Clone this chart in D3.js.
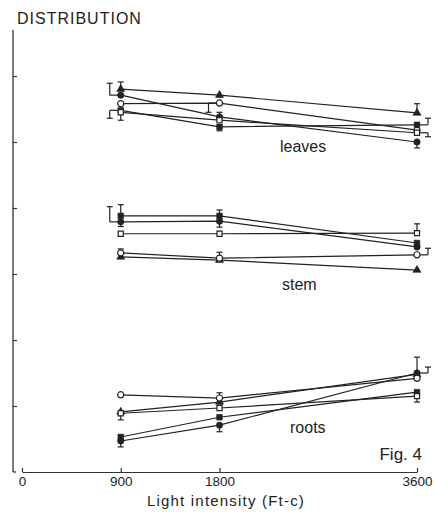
<!DOCTYPE html>
<html>
<head>
<meta charset="utf-8">
<script src="https://cdn.jsdelivr.net/npm/d3@7"></script>
<style>
  body { margin: 0; background: #fff; }
  svg { display: block; }
  text { font-family: "Liberation Sans", Arial, sans-serif; fill: #222; }
</style>
</head>
<body>
<svg></svg>
<script>
// размеры окна
const width = 435;
const height = 513;
let svg = d3.select("svg")
  .attr("width", width)
  .attr("height", height);

// данные: интенсивность света и три группы (листья, стебель, корни)
const lightLevels = [900, 1800, 3600];
const xTicks = [0, 900, 1800, 3600];
const yTicks = [10, 20, 30, 40, 50, 60];
const symbols = ["triangle", "dot", "ring", "square", "box"];

// порядок рядов совпадает с symbols
const leaves = [
  [58.0, 57.1, 54.4],
  [57.1, 53.8, 50.0],
  [55.8, 55.9, 51.8],
  [54.8, 52.3, 52.6],
  [54.5, 53.3, 51.4]
];
const stem = [
  [32.6, 32.1, 30.6],
  [37.9, 38.0, 34.1],
  [33.2, 32.4, 32.9],
  [38.8, 38.8, 34.7],
  [36.1, 36.1, 36.2]
];
const roots = [
  [9.1, 10.6, 14.8],
  [4.7, 7.1, 15.0],
  [11.7, 11.2, 14.2],
  [5.3, 8.3, 12.1],
  [8.9, 9.7, 11.5]
];
const groupNames = ["leaves", "stem", "roots"];

// планки ошибок: группа, ряд, точка, конец, сторона (-1 слева, 0 по центру, 1 справа)
const errorBars = [
  ["leaves", 0, 0, 59.1, 0],
  ["leaves", 1, 0, 58.9, -1],
  ["leaves", 4, 0, 53.3, 0],
  ["leaves", 3, 0, 53.6, -1],
  ["leaves", 2, 1, 54.5, -1],
  ["leaves", 1, 1, 54.5, 0],
  ["leaves", 3, 1, 51.7, 0],
  ["leaves", 0, 2, 55.8, 0],
  ["leaves", 3, 2, 53.6, 1],
  ["leaves", 4, 2, 50.8, 1],
  ["leaves", 1, 2, 49.1, 0],
  ["stem", 3, 0, 40.5, 0],
  ["stem", 1, 0, 37.2, 0],
  ["stem", 1, 0, 40.2, -1],
  ["stem", 2, 0, 33.8, 0],
  ["stem", 3, 1, 39.7, 0],
  ["stem", 1, 1, 37.1, 0],
  ["stem", 2, 1, 33.3, 0],
  ["stem", 4, 2, 37.6, 0],
  ["stem", 2, 2, 33.9, 1],
  ["roots", 1, 0, 3.8, 0],
  ["roots", 4, 0, 7.9, 0],
  ["roots", 2, 1, 12.0, 0],
  ["roots", 1, 1, 6.1, 0],
  ["roots", 1, 2, 17.4, 0],
  ["roots", 1, 2, 15.9, 1],
  ["roots", 4, 2, 10.6, 0]
];

const groups = { leaves: leaves, stem: stem, roots: roots };

// шкалы
const x = d3.scaleLinear().domain([0, 3600]).range([22, 417]);
const y = d3.scaleLinear().domain([0, 60]).range([472, 76]);
const axisX = 13;

// ось Y (без подписей, засечки внутрь)
svg.append("line")
  .attr("x1", axisX).attr("x2", axisX)
  .attr("y1", y(0)).attr("y2", y(67))
  .style("stroke", "#333").style("stroke-width", 1.3);
svg.append("line")
  .attr("x1", axisX).attr("x2", axisX + 3)
  .attr("y1", y(0)).attr("y2", y(0))
  .style("stroke", "#333").style("stroke-width", 1.3);
svg.append("g")
  .attr("transform", `translate(${axisX},0)`)
  .call(d3.axisRight(y).tickValues(yTicks).tickSize(4).tickFormat(""))
  .call(g => g.select(".domain").remove())
  .selectAll("line").style("stroke", "#333").style("stroke-width", 1.2);

// ось X
let xAxis = svg.append("g")
  .attr("transform", `translate(0,${y(0)})`)
  .call(d3.axisBottom(x).tickValues(xTicks).tickFormat(d3.format("d"))
    .tickSize(-4).tickSizeOuter(0).tickPadding(4));
xAxis.select(".domain").style("stroke", "#333").style("stroke-width", 1.2);
xAxis.selectAll(".tick line").style("stroke", "#333").style("stroke-width", 1.2);
xAxis.selectAll(".tick text")
  .style("font-family", "'Liberation Sans', Arial, sans-serif")
  .style("font-size", "13.5px")
  .style("fill", "#222");

// подпись оси X
svg.append("text")
  .attr("x", 226).attr("y", 506)
  .attr("text-anchor", "middle")
  .style("font-size", "15px")
  .style("letter-spacing", "1.2px")
  .text("Light intensity (Ft-c)");

// заголовок
svg.append("text")
  .attr("x", 17).attr("y", 24)
  .style("font-size", "16px")
  .style("letter-spacing", "1px")
  .text("DISTRIBUTION");

// линии рядов
const line = d3.line()
  .x((d, i) => x(lightLevels[i]))
  .y(d => y(d));

let plot = svg.append("g");
groupNames.forEach(name => {
  groups[name].forEach(values => {
    plot.append("path")
      .attr("d", line(values))
      .style("fill", "none")
      .style("stroke", "#222")
      .style("stroke-width", 1.2);
  });
});

// планки ошибок
const offset = 11;
const cap = 3;
let bars = svg.append("g").style("stroke", "#222").style("stroke-width", 1.2);
errorBars.forEach(([g, s, i, end, side]) => {
  let v = groups[g][s][i];
  let cx = x(lightLevels[i]);
  let bx = cx + side * offset;
  if (side !== 0) {
    bars.append("line")
      .attr("x1", cx).attr("x2", bx)
      .attr("y1", y(v)).attr("y2", y(v));
  }
  bars.append("line")
    .attr("x1", bx).attr("x2", bx)
    .attr("y1", y(v)).attr("y2", y(end));
  bars.append("line")
    .attr("x1", bx - cap).attr("x2", bx + cap)
    .attr("y1", y(end)).attr("y2", y(end));
});

// маркеры
const symbolTypes = {
  triangle: d3.symbolTriangle,
  dot: d3.symbolCircle,
  ring: d3.symbolCircle,
  square: d3.symbolSquare,
  box: d3.symbolSquare
};
const symbolSizes = { triangle: 28, dot: 32, ring: 30, square: 32, box: 26 };
const openSymbols = ["ring", "box"];

let marks = svg.append("g");
groupNames.forEach(name => {
  groups[name].forEach((values, s) => {
    let kind = symbols[s];
    let open = openSymbols.includes(kind);
    values.forEach((v, i) => {
      marks.append("path")
        .attr("transform", `translate(${x(lightLevels[i])},${y(v)})`)
        .attr("d", d3.symbol().type(symbolTypes[kind]).size(symbolSizes[kind])())
        .style("fill", open ? "#fff" : "#222")
        .style("stroke", "#222")
        .style("stroke-width", open ? 1.2 : 0.6);
    });
  });
});

// подписи групп
const labelPos = { leaves: [280, 152], stem: [282, 290], roots: [290, 433] };
groupNames.forEach(name => {
  svg.append("text")
    .attr("x", labelPos[name][0]).attr("y", labelPos[name][1])
    .style("font-size", "16px")
    .text(name);
});

svg.append("text")
  .attr("x", 422).attr("y", 460)
  .attr("text-anchor", "end")
  .style("font-size", "17px")
  .text("Fig. 4");
</script>
</body>
</html>
